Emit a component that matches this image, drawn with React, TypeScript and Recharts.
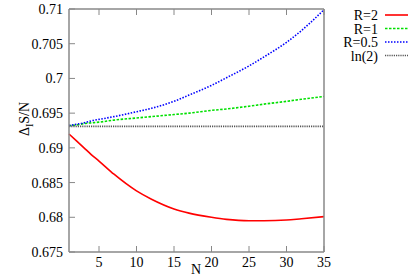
import { Line, LineChart, XAxis, YAxis } from 'recharts'

const nValues = [1, 2, 3, 4, 5, 7, 10, 12, 15, 17, 20, 22, 25, 27, 30, 32, 35]
const r2 = [0.692, 0.691, 0.69, 0.689, 0.6881, 0.6862, 0.6838, 0.6826, 0.6812, 0.6806, 0.68, 0.6797, 0.6795, 0.6795, 0.6796, 0.6798, 0.6801]
const r1 = [0.6932, 0.6933, 0.6935, 0.6936, 0.6937, 0.694, 0.6943, 0.6945, 0.6948, 0.695, 0.6954, 0.6956, 0.696, 0.6963, 0.6967, 0.697, 0.6974]
const r05 = [0.6932, 0.6934, 0.6936, 0.6939, 0.6941, 0.6945, 0.6952, 0.6957, 0.6967, 0.6976, 0.699, 0.7001, 0.7018, 0.7031, 0.7052, 0.7069, 0.7099]
const ln2 = nValues.map(() => 0.6931)

const xTicks = [5, 10, 15, 20, 25, 30, 35]
const yTicks = [0.675, 0.68, 0.685, 0.69, 0.695, 0.7, 0.705, 0.71]

const series = [
  { key: 'r2', name: 'R=2', color: '#ff0000', dash: undefined as string | undefined },
  { key: 'r1', name: 'R=1', color: '#00e000', dash: '2.5 1.5' },
  { key: 'r05', name: 'R=0.5', color: '#0000ff', dash: '1.5 1.5' },
  { key: 'ln2', name: 'ln(2)', color: '#555555', dash: '1.2 1' },
]

const data = nValues.map((n, i) => ({ n, r2: r2[i], r1: r1[i], r05: r05[i], ln2: ln2[i] }))

const FONT = 'Liberation Serif, Times New Roman, Times, DejaVu Serif, serif'
const AXIS = '#888888'
const txt = { fontFamily: FONT, fontSize: 14, fill: '#000' }

function BottomTick({ x, y, payload }: any) {
  return (
    <g>
      <line x1={x} y1={y} x2={x} y2={y - 6} stroke={AXIS} />
      <text x={x} y={y + 15} textAnchor="middle" fontFamily={FONT} style={txt}>
        {payload.value}
      </text>
    </g>
  )
}

function TopTick({ x, y }: any) {
  return <line x1={x} y1={y} x2={x} y2={y + 6} stroke={AXIS} />
}

function LeftTick({ x, y, payload }: any) {
  return (
    <g>
      <line x1={x} y1={y} x2={x + 6} y2={y} stroke={AXIS} />
      <text x={x - 6} y={y + 5} textAnchor="end" fontFamily={FONT} style={txt}>
        {String(payload.value)}
      </text>
    </g>
  )
}

function RightTick({ x, y }: any) {
  return <line x1={x} y1={y} x2={x - 6} y2={y} stroke={AXIS} />
}

export default function App() {
  const axisLine = { stroke: AXIS, strokeWidth: 1.5 }
  return (
    <div style={{ position: 'absolute', left: 0, top: 0, width: 415, height: 277, background: '#fff', fontFamily: FONT }}>
      <LineChart width={415} height={277} data={data} margin={{ top: 8, right: 90, bottom: 0, left: 9 }}>
        <XAxis
          xAxisId="b"
          dataKey="n"
          type="number"
          domain={[1, 35]}
          ticks={xTicks}
          height={25}
          tickSize={0}
          tickMargin={0}
          tick={<BottomTick />}
          axisLine={axisLine}
          interval={0}
        />
        <XAxis
          xAxisId="t"
          dataKey="n"
          type="number"
          orientation="top"
          domain={[1, 35]}
          ticks={xTicks}
          height={1}
          tickSize={0}
          tickMargin={0}
          tick={<TopTick />}
          axisLine={axisLine}
          interval={0}
        />
        <YAxis
          yAxisId="l"
          type="number"
          domain={[0.675, 0.71]}
          ticks={yTicks}
          width={60}
          tickSize={0}
          tickMargin={0}
          tick={<LeftTick />}
          axisLine={axisLine}
          interval={0}
          allowDataOverflow
        />
        <YAxis
          yAxisId="r"
          orientation="right"
          type="number"
          domain={[0.675, 0.71]}
          ticks={yTicks}
          width={1}
          tickSize={0}
          tickMargin={0}
          tick={<RightTick />}
          axisLine={axisLine}
          interval={0}
        />
        {series.map((s) => (
          <Line
            key={s.key}
            xAxisId="b"
            yAxisId="l"
            type="monotone"
            dataKey={s.key}
            name={s.name}
            stroke={s.color}
            strokeWidth={1.6}
            strokeDasharray={s.dash}
            dot={false}
            activeDot={false}
            isAnimationActive={false}
          />
        ))}
        <text x={196} y={274} textAnchor="middle" fontFamily={FONT} style={txt}>
          N
        </text>
        <text transform="translate(29,119) rotate(-90)" textAnchor="middle" fontFamily={FONT} style={txt}>
          Δ<tspan fontSize={10} dy={4}>I</tspan>
          <tspan dy={-4}>S/N</tspan>
        </text>
      </LineChart>
      <svg width={120} height={70} style={{ position: 'absolute', left: 288, top: 2 }}>
        {series.map((s, i) => (
          <g key={s.key}>
            <text x={90} y={18 + i * 13.5} textAnchor="end" fontFamily={FONT} style={txt}>
              {s.name}
            </text>
            <line x1={97} x2={120} y1={13 + i * 13.5} y2={13 + i * 13.5} stroke={s.color} strokeWidth={1.6} strokeDasharray={s.dash} />
          </g>
        ))}
      </svg>
    </div>
  )
}
